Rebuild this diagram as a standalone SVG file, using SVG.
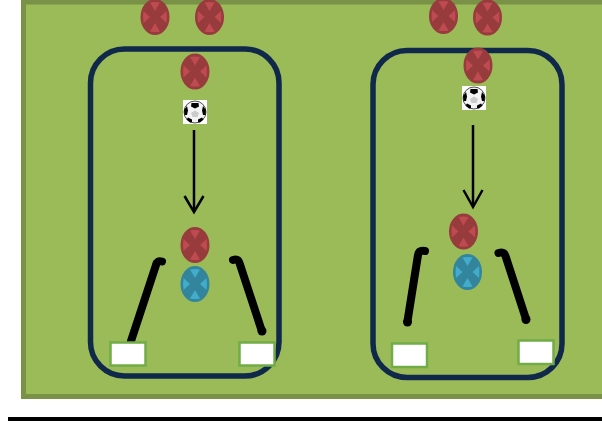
<svg xmlns="http://www.w3.org/2000/svg" xmlns:xlink="http://www.w3.org/1999/xlink" width="602" height="425" viewBox="0 0 602 425">
<style>
.field{fill:#9BBB59;stroke:#7A9148;stroke-width:5}
.area{fill:none;stroke:#10294A;stroke-width:5.5}
.cone{fill:#FFFFFF;stroke:#70AD47;stroke-width:2.5}
.stick{fill:none;stroke:#000000;stroke-width:8;stroke-linecap:round;stroke-linejoin:round}
.tip{fill:#000000}
.arrow{fill:none;stroke:#000000;stroke-width:2.500}
.rb{fill:#983A3E}.rt{fill:#BE4B50}
.bb{fill:#31859C}.bt{fill:#43ACCB}
.soft{filter:url(#soft)}
</style>
<defs>
<filter id="soft" x="-10%" y="-10%" width="120%" height="120%"><feGaussianBlur stdDeviation="0.5"/></filter>
<path id="marks" d="M-5 -14.500Q0 -15.500 5 -14.500L0 -6ZM-5 14.500Q0 15.500 5 14.500L0 6ZM-11.500 -6Q-12.300 0 -11.500 6L-5 0ZM11.500 -6Q12.300 0 11.500 6L5 0Z"/>
<g id="player-red">
<ellipse class="rb" cx="0" cy="0" rx="14.500" ry="18"/>
<use class="rt" xlink:href="#marks" href="#marks"/>
</g>
<g id="player-blue">
<ellipse class="bb" cx="0" cy="0" rx="14.500" ry="18"/>
<use class="bt" xlink:href="#marks" href="#marks"/>
</g>
<g id="ball">
<rect x="-12" y="-12" width="24" height="24" fill="#FFFFFF"/>
<circle r="11" fill="#F4F4F4" stroke="#222222" stroke-width="0.8"/>
<path fill="#000000" d="M-3.500 -9L3.500 -9L4 -5.500L0 -3.500L-4 -5.500ZM-11 -2L-8 -6L-7 -1.500L-8 3L-10.500 3ZM11 -2L8 -6L7 -1.500L8 3L10.500 3ZM-7 5.500L-3 7.500L-3 10L-5 10.500L-8.500 7.500ZM7 5.500L3 7.500L3 10L5 10.500L8.500 7.500Z"/>
<path fill="#9A9A9A" d="M-4 1L0 -1.500L4 1L2.500 5L-2.500 5Z" opacity="0.45"/>
</g>
</defs>
<rect width="602" height="425" fill="#FFFFFF"/>
<g id="pitch"><rect class="field" x="23.500" y="2" width="582" height="394.500"/></g>
<rect x="8" y="417" width="594" height="4" fill="#000000"/>
<g id="grid-left"><rect class="area" x="90.500" y="49" width="188.500" height="327" rx="34" ry="34"/></g>
<g id="grid-right"><rect class="area" x="373" y="50.500" width="189" height="327" rx="34" ry="34"/></g>
<g id="connectors">
<g class="arrow"><path d="M194 130V211"/><path d="M184.500 196L194 212L203.500 196"/></g>
<g class="arrow"><path d="M473 125V206"/><path d="M463.500 190L473 207L482.500 190"/></g>
<g class="stick">
<path d="M131 341L156 265Q157 260 162 261.500"/>
<path d="M233 260Q238 258.500 239.500 263L261.500 330"/>
<path d="M407.500 321L418 255Q419 250 425 251"/>
<path d="M498.500 253Q504 251.500 505.500 256L526 319"/>
</g>
<circle class="tip" cx="262" cy="331" r="4.500"/>
<circle class="tip" cx="407.500" cy="322" r="4.500"/>
<circle class="tip" cx="526" cy="319.500" r="4.500"/>
</g>
<g id="player-1" class="soft"><use xlink:href="#player-red" href="#player-red" x="155" y="17"/></g>
<g id="player-2" class="soft"><use xlink:href="#player-red" href="#player-red" x="209.500" y="17"/></g>
<g id="player-3" class="soft"><use xlink:href="#player-red" href="#player-red" x="195" y="71.500"/></g>
<g id="player-4" class="soft"><use xlink:href="#player-red" href="#player-red" x="195" y="245"/></g>
<g id="player-5" class="soft"><use xlink:href="#player-blue" href="#player-blue" x="195" y="284"/></g>
<g id="player-6" class="soft"><use xlink:href="#player-red" href="#player-red" x="443.500" y="16"/></g>
<g id="player-7" class="soft"><use xlink:href="#player-red" href="#player-red" x="487.500" y="17.500"/></g>
<g id="player-8" class="soft"><use xlink:href="#player-red" href="#player-red" x="478" y="65.500"/></g>
<g id="player-9" class="soft"><use xlink:href="#player-red" href="#player-red" x="463.500" y="231.500"/></g>
<g id="player-10" class="soft"><use xlink:href="#player-blue" href="#player-blue" x="467.500" y="272"/></g>
<g id="ball-1" class="soft"><use xlink:href="#ball" href="#ball" x="195" y="112"/></g>
<g id="ball-2" class="soft"><use xlink:href="#ball" href="#ball" x="474" y="98"/></g>
<g id="cone-1"><rect class="cone" x="110.500" y="342.500" width="35" height="23"/></g>
<g id="cone-2"><rect class="cone" x="239.500" y="342.500" width="35" height="23"/></g>
<g id="cone-3"><rect class="cone" x="392" y="343.500" width="35" height="23.500"/></g>
<g id="cone-4"><rect class="cone" x="518.500" y="340.500" width="35" height="23.500"/></g>
</svg>
